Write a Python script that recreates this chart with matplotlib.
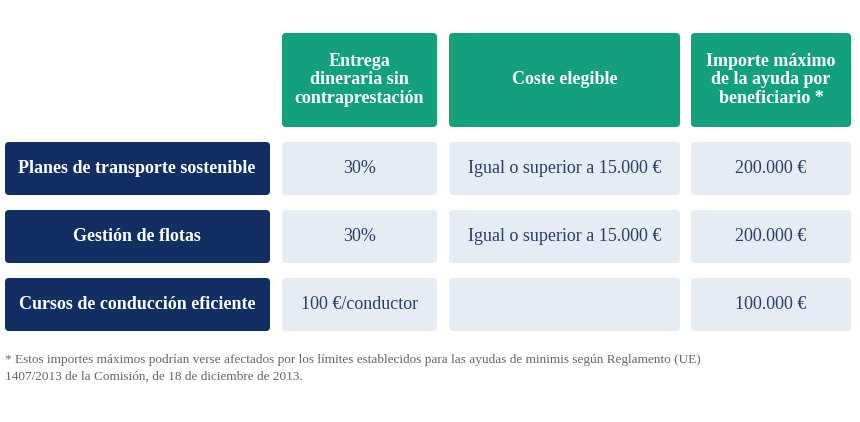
import matplotlib
matplotlib.use('Agg')
import matplotlib.pyplot as plt
from matplotlib.patches import FancyBboxPatch

# ---------------------------------------------------------------------------
# Table content
# ---------------------------------------------------------------------------
headers = ['Entrega\ndineraria sin\ncontraprestación', 'Coste elegible',
           'Importe máximo\nde la ayuda por\nbeneficiario *']
rowLabels = ['Planes de transporte sostenible', 'Gestión de flotas',
             'Cursos de conducción eficiente']
entrega = ['30%', '30%', '100 €/conductor']
coste = ['Igual o superior a 15.000 €', 'Igual o superior a 15.000 €', '']
importe = ['200.000 €', '200.000 €', '100.000 €']
footnote = ('* Estos importes máximos podrían verse afectados por los límites establecidos para las ayudas de minimis según Reglamento (UE)\n'
            '1407/2013 de la Comisión, de 18 de diciembre de 2013.')

GREEN = '#13a07c'
NAVY = '#112f63'
LIGHT = '#e6ecf4'
TEXT = '#2a3e6a'
FONT = 'Liberation Serif'

fig = plt.figure(figsize=(8.6, 4.22), dpi=100)
ax = fig.add_axes([0, 0, 1, 1])
ax.set_xlim(0, 860)
ax.set_ylim(422, 0)
ax.axis('off')

def box(x0, y0, x1, y1, color):
    ax.add_patch(FancyBboxPatch((x0 + 4, y0 + 4), x1 - x0 - 8, y1 - y0 - 8,
                                boxstyle='round,pad=4', facecolor=color,
                                edgecolor='none'))

cols = [(282, 437), (449, 680), (691, 851)]
rows = [(142, 195), (210, 263), (278, 331)]

for (x0, x1), h in zip(cols, headers):
    box(x0, 33, x1, 127, GREEN)
    ax.text((x0 + x1) / 2, 80, h, ha='center', va='center', color='white',
            fontsize=13, fontweight='bold', family=FONT, linespacing=1.15)

for i, (y0, y1) in enumerate(rows):
    yc = (y0 + y1) / 2
    box(5, y0, 270, y1, NAVY)
    ax.text(137, yc, rowLabels[i], ha='center', va='center', color='white',
            fontsize=13, fontweight='bold', family=FONT)
    for (x0, x1), val in zip(cols, [entrega[i], coste[i], importe[i]]):
        box(x0, y0, x1, y1, LIGHT)
        ax.text((x0 + x1) / 2, yc, val, ha='center', va='center', color=TEXT,
                fontsize=13, family=FONT)

ax.text(5, 368, footnote, ha='left', va='center', color='#666666',
        fontsize=9.5, family=FONT, linespacing=1.5)

fig.savefig('out.png', dpi=100, facecolor='white')
